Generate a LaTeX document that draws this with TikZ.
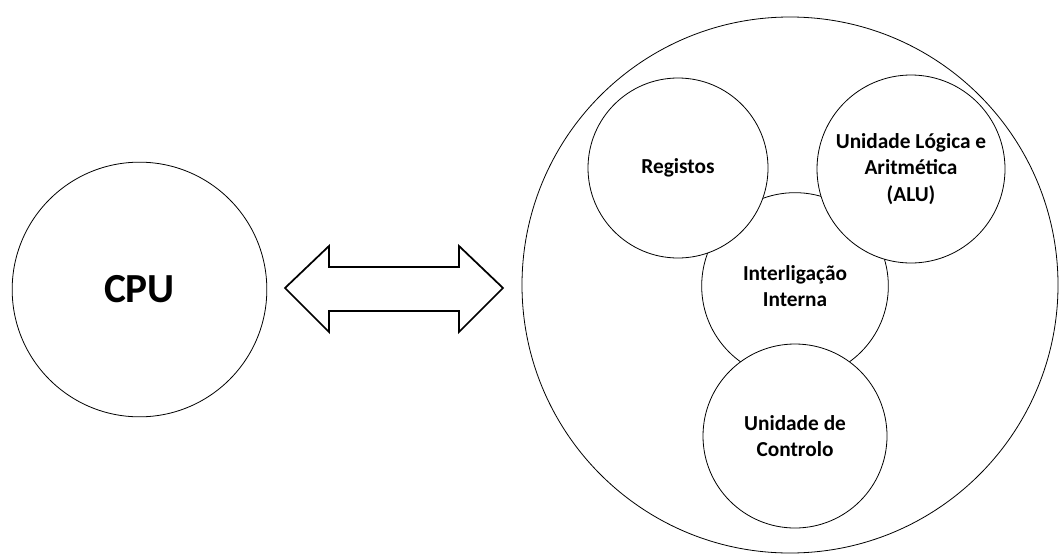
\documentclass[tikz,border=0pt]{standalone}
\usepackage{fontspec}
\setmainfont{Carlito}
\begin{document}
\begin{tikzpicture}
      [
      x=0.75pt,y=-0.75pt,
      unit/.style={circle,draw,fill=white,line width=0.6pt,inner sep=0pt,align=center,font=\bfseries\fontsize{16}{20}\selectfont},
      bigarrow/.style={draw,fill=white,line width=1.3pt,line join=miter}
      ]
      \useasboundingbox (0,0) rectangle (1059,557);
      \node (cpu) at (139.5,289.5) [unit,minimum size=191pt,font=\bfseries\fontsize{31}{36}\selectfont] {CPU};
      \node (proc) at (790,285) [unit,minimum size=402pt] {};
      \node (inter) at (795,286) [unit,minimum size=140pt] {Interligação\\Interna};
      \node (reg) at (678,168) [unit,minimum size=135pt] {Registos};
      \node (alu) at (911,169) [unit,minimum size=141pt] {Unidade Lógica e\\Aritmética\\(ALU)};
      \node (ctrl) at (795,436) [unit,minimum size=138pt] {Unidade de\\Controlo};
      \draw [bigarrow] (285,288) -- (329,246) -- (329,267) -- (459,267) -- (459,246) -- (503,288)
        -- (459,332) -- (459,311) -- (329,311) -- (329,332) -- cycle;
    \end{tikzpicture}
\end{document}
